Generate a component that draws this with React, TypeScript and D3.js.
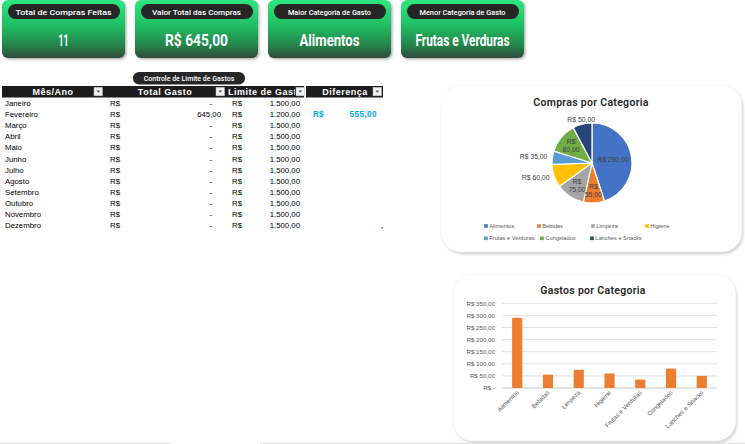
import React from "react";
import * as d3 from "d3";

const kpiTitles = ["Total de Compras Feitas", "Valor Total das Compras", "Maior Categoria de Gasto", "Menor Categoria de Gasto"];
const kpiValues = ["11", "R$ 645,00", "Alimentos", "Frutas e Verduras"];

const categories = ["Alimentos", "Bebidas", "Limpeza", "Higiene", "Frutas e Verduras", "Congelados", "Lanches e Snacks"];
const categoryValues = [290, 55, 75, 60, 35, 80, 50];
const categoryColors = ["#4472c4", "#ed7d31", "#a5a5a5", "#ffc000", "#5b9bd5", "#70ad47", "#264478"];
const pieLabelMode = ["inline", "wrap", "wrap", "outside", "outside", "wrap", "outside"];

const months = ["Janeiro", "Fevereiro", "Março", "Abril", "Maio", "Junho", "Julho", "Agosto", "Setembro", "Outubro", "Novembro", "Dezembro"];
const totalGasto = [0, 645, 0, 0, 0, 0, 0, 0, 0, 0, 0, 0];
const limiteGasto = [1500, 1200, 1500, 1500, 1500, 1500, 1500, 1500, 1500, 1500, 1500, 1500];
const diferenca = [null, 555, null, null, null, null, null, null, null, null, null, null];
const tableHeaders = ["Mês/Ano", "Total Gasto", "Limite de Gasto", "Diferença"];

const yTicks = [0, 50, 100, 150, 200, 250, 300, 350];

const loc = d3.formatLocale({ decimal: ",", thousands: ".", grouping: [3], currency: ["R$ ", ""] });
const fmtNum = loc.format(",.2f");
const fmtCell = (v: number) => (v === 0 ? "-" : fmtNum(v));
const fmtMoney = (v: number) => (v === 0 ? "R$ -" : "R$ " + fmtNum(v));

function KpiCard({ i }: { i: number }) {
  const x = 2 + i * 133;
  const w = 123;
  const valueWidths = [10, 63, 60, 94];
  const titleWidths = [96, 89, 83, 86];
  return (
    <g transform={`translate(${x},0)`}>
      <rect x={1.5} y={1.5} width={w} height={58} rx={6} fill="#555" opacity={0.45} filter="url(#blur1)" />
      <rect x={0} y={0} width={w} height={58} rx={6} fill="url(#kpiGrad)" />
      <rect x={6} y={4} width={w - 11} height={15} rx={7.5} fill="#262626" />
      <text x={w / 2} y={14.5} textAnchor="middle" fill="#fff" fontFamily="Roboto, sans-serif" fontSize={8}
        fontWeight={500} textLength={titleWidths[i]} lengthAdjust="spacingAndGlyphs">{kpiTitles[i]}</text>
      <text x={w / 2} y={45.5} textAnchor="middle" fill="#fff" fontFamily="Roboto, sans-serif" fontSize={16}
        fontWeight={700} textLength={valueWidths[i]} lengthAdjust="spacingAndGlyphs">{kpiValues[i]}</text>
    </g>
  );
}

function Table() {
  const rowY = (i: number) => 106.3 + i * 11.04;
  const headerCols = [
    { x0: 2, x1: 104, cx: 53, anchor: "middle", btn: 94 },
    { x0: 104, x1: 226, cx: 165, anchor: "middle", btn: 216 },
    { x0: 226, x1: 304, cx: 228, anchor: "start", btn: 296 },
    { x0: 306, x1: 383, cx: 345, anchor: "middle", btn: 373 },
  ];
  return (
    <g fontFamily="'Liberation Sans', Arial, sans-serif">
      <rect x={133} y={72} width={112} height={12.5} rx={6.2} fill="#262626" />
      <text x={189} y={80.8} textAnchor="middle" fill="#fff" fontSize={7} fontFamily="Roboto, sans-serif" fontWeight={500}>
        Controle de Limite de Gastos
      </text>
      <defs>
        <clipPath id="clipLim"><rect x={226} y={85} width={69} height={13} /></clipPath>
      </defs>
      {headerCols.map((c, i) => (
        <g key={i}>
          <rect x={c.x0} y={86} width={c.x1 - c.x0} height={11.5} fill="#1c1c1c" />
          <text x={c.cx} y={94.9} textAnchor={c.anchor as any} fill="#fff" fontSize={9} fontWeight={700}
            letterSpacing={0.5}
            clipPath={i === 2 ? "url(#clipLim)" : undefined}>{tableHeaders[i]}</text>
          <rect x={c.btn} y={87.3} width={8.5} height={8.5} fill="#f0f0f0" stroke="#bdbdbd" strokeWidth={0.5} />
          <path d={`M${c.btn + 2.3},${90.5} L${c.btn + 6.2},${90.5} L${c.btn + 4.25},${92.8} Z`} fill="#555" />
        </g>
      ))}
      {months.map((m, i) => (
        <g key={m} fontSize={7.8} fill="#000">
          <text x={5} y={rowY(i)}>{m}</text>
          <text x={110} y={rowY(i)}>R$</text>
          <text x={totalGasto[i] === 0 ? 212 : 221} y={rowY(i)} textAnchor="end">{fmtCell(totalGasto[i])}</text>
          <text x={232} y={rowY(i)}>R$</text>
          <text x={300} y={rowY(i)} textAnchor="end">{fmtCell(limiteGasto[i])}</text>
          {diferenca[i] != null && (
            <g fill="#00a8ec" fontWeight={700} fontSize={8.2}>
              <text x={313} y={rowY(i)}>R$</text>
              <text x={377} y={rowY(i)} textAnchor="end" letterSpacing={0.4}>{fmtNum(diferenca[i] as number)}</text>
            </g>
          )}
        </g>
      ))}
      <rect x={381.5} y={227} width={1.5} height={1.5} fill="#2b6cc4" />
    </g>
  );
}

function PieCard() {
  const cx = 592, cy = 163, r = 40;
  const pie = d3.pie<number>().sort(null).value((d) => d)(categoryValues);
  const arc = d3.arc<d3.PieArcDatum<number>>().innerRadius(0).outerRadius(r);
  const legendRows = [[486, 539, 593, 647], [486, 542, 592]];
  return (
    <g>
      <rect x={443} y={88} width={300} height={166} rx={20} fill="#999" opacity={0.5} filter="url(#blur2)" />
      <rect x={441} y={85} width={301} height={167} rx={20} fill="#fff" stroke="#ececec" strokeWidth={0.6} />
      <text x={591} y={105.5} textAnchor="middle" fontFamily="Roboto, sans-serif" fontWeight={600} fontSize={10.5}
        fill="#262626" letterSpacing={0.3}>Compras por Categoria</text>
      <g transform={`translate(${cx},${cy})`}>
        {pie.map((d, i) => (
          <path key={i} d={arc(d) || ""} fill={categoryColors[i]} stroke="#fff" strokeWidth={1.2} />
        ))}
        {pie.map((d, i) => {
          const mid = (d.startAngle + d.endAngle) / 2;
          const dx = Math.sin(mid), dy = -Math.cos(mid);
          const mode = pieLabelMode[i];
          const label = fmtNum(d.data);
          const common = { fontFamily: "'Liberation Sans', Arial, sans-serif", fontSize: 6.8, fill: "#404040" };
          if (mode === "inline") {
            const k = r * 0.53;
            return <text key={i} x={dx * k} y={dy * k + 2.3} textAnchor="middle" {...common}>{"R$ " + label}</text>;
          }
          if (mode === "wrap") {
            const k = r * 0.68;
            return (
              <text key={i} x={dx * k} y={dy * k - 1.5} textAnchor="middle" {...common}>
                <tspan x={dx * k} dy={0}>R$</tspan>
                <tspan x={dx * k} dy={8}>{label}</tspan>
              </text>
            );
          }
          const k = r + 5;
          const anchor = Math.abs(dx) < 0.4 ? "middle" : dx < 0 ? "end" : "start";
          return <text key={i} x={dx * k} y={dy * k + 2.3} textAnchor={anchor} {...common}>{"R$ " + label}</text>;
        })}
      </g>
      {categories.map((c, i) => {
        const row = i < 4 ? 0 : 1;
        const col = i < 4 ? i : i - 4;
        const x = legendRows[row][col], y = 226 + row * 12.3;
        return (
          <g key={c}>
            <rect x={x - 1.8} y={y - 1.8} width={3.6} height={3.6} fill={categoryColors[i]} />
            <text x={x + 3.3} y={y + 2.1} fontFamily="'Liberation Sans', Arial, sans-serif" fontSize={5.7} fill="#595959">{c}</text>
          </g>
        );
      })}
    </g>
  );
}

function BarCard() {
  const x = d3.scaleBand<string>().domain(categories).range([502, 717]).paddingInner(0.67).paddingOuter(0.33);
  const y = d3.scaleLinear().domain([0, 350]).range([388, 303.3]);
  return (
    <g>
      <rect x={455} y={277} width={282} height={166} rx={20} fill="#999" opacity={0.5} filter="url(#blur2)" />
      <rect x={453} y={274} width={283} height={167} rx={20} fill="#fff" stroke="#ececec" strokeWidth={0.6} />
      <text x={593} y={293.5} textAnchor="middle" fontFamily="Roboto, sans-serif" fontWeight={600} fontSize={10.5}
        fill="#262626" letterSpacing={0.3}>Gastos por Categoria</text>
      {yTicks.map((t) => (
        <g key={t}>
          <line x1={502} x2={717} y1={y(t)} y2={y(t)} stroke={t === 0 ? "#bfbfbf" : "#d9d9d9"} strokeWidth={0.8} />
          <text x={495} y={y(t) + 2.2} textAnchor="end" fontFamily="'Liberation Sans', Arial, sans-serif" fontSize={6.2} fill="#595959">
            {fmtMoney(t)}
          </text>
        </g>
      ))}
      {categories.map((c, i) => (
        <rect key={c} x={x(c)} y={y(categoryValues[i])} width={x.bandwidth()} height={y(0) - y(categoryValues[i])} fill="#ed7d31" />
      ))}
      {categories.map((c) => {
        const cxp = (x(c) as number) + x.bandwidth() / 2;
        return (
          <text key={c} transform={`translate(${cxp + 2},${393}) rotate(-45)`} textAnchor="end"
            fontFamily="'Liberation Sans', Arial, sans-serif" fontSize={6.2} fill="#595959">{c}</text>
        );
      })}
    </g>
  );
}

export default function App() {
  return (
    <svg width={745} height={444} style={{ position: "absolute", left: 0, top: 0, background: "#fff" }}>
      <defs>
        <linearGradient id="kpiGrad" x1="0" y1="0" x2="0" y2="1">
          <stop offset="0" stopColor="#2ee67e" />
          <stop offset="0.45" stopColor="#1fbd63" />
          <stop offset="0.8" stopColor="#25804a" />
          <stop offset="1" stopColor="#30483a" />
        </linearGradient>
        <filter id="blur1" x="-10%" y="-10%" width="120%" height="130%"><feGaussianBlur stdDeviation="1.2" /></filter>
        <filter id="blur2" x="-10%" y="-10%" width="120%" height="120%"><feGaussianBlur stdDeviation="1.5" /></filter>
      </defs>
      <rect x={0} y={0} width={745} height={444} fill="#fff" />
      {kpiTitles.map((_, i) => <KpiCard key={i} i={i} />)}
      <Table />
      <PieCard />
      <BarCard />
      <line x1={0} x2={170} y1={443.5} y2={443.5} stroke="#e0e0e0" strokeWidth={1} />
      <line x1={260} x2={745} y1={443.5} y2={443.5} stroke="#e0e0e0" strokeWidth={1} />
    </svg>
  );
}
